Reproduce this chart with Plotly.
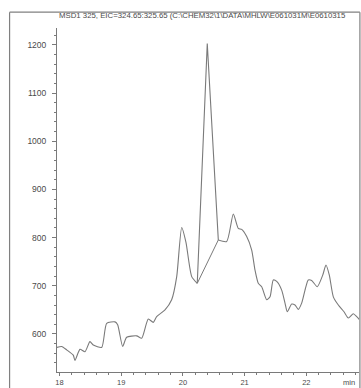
import plotly.graph_objects as go

rt = [17.955, 18.036, 18.117, 18.224, 18.251, 18.332, 18.413, 18.494, 18.548, 18.684,
      18.765, 18.900, 18.943, 19.024, 19.089, 19.251, 19.332, 19.439, 19.520, 19.575,
      19.710, 19.818, 19.900, 19.981, 20.050, 20.143, 20.233, 20.395, 20.574, 20.710,
      20.817, 20.898, 20.953, 21.034, 21.115, 21.168, 21.222, 21.277, 21.358, 21.412,
      21.465, 21.520, 21.601, 21.655, 21.692, 21.763, 21.817, 21.870, 21.925, 21.979,
      22.032, 22.087, 22.178, 22.266, 22.319, 22.373, 22.438, 22.519, 22.611, 22.681,
      22.762, 22.817, 22.887]
abundance = [572, 574, 567, 556, 545, 568, 563, 584, 577, 572,
             622, 625, 619, 574, 593, 596, 591, 631, 624, 636,
             650, 671, 719, 821, 790, 719, 705, 1203, 795, 792,
             849, 819, 817, 802, 774, 733, 705, 698, 671, 677,
             712, 709, 691, 664, 646, 662, 660, 651, 664, 691,
             712, 711, 698, 722, 743, 722, 677, 660, 646, 633,
             642, 636, 626]

# integration baseline under the tall peak
base_rt = [20.233, 20.574]
base_val = [705, 795]

title = "MSD1 325, EIC=324.65:325.65 (C:\\CHEM32\\1\\DATA\\MHLW\\E061031M\\E0610315"

ink = "#7a7a7a"
txt = "#4a4a4a"
font = "Liberation Sans"

fig = go.Figure()
# split the trace so the sharp peak stays sharp while the rest is smoothed
fig.add_trace(go.Scatter(x=rt[:27], y=abundance[:27], mode="lines",
                         line=dict(color=ink, width=1.1, shape="spline", smoothing=0.6),
                         hoverinfo="skip"))
fig.add_trace(go.Scatter(x=rt[26:29], y=abundance[26:29], mode="lines",
                         line=dict(color=ink, width=1.1), hoverinfo="skip"))
fig.add_trace(go.Scatter(x=rt[28:], y=abundance[28:], mode="lines",
                         line=dict(color=ink, width=1.1, shape="spline", smoothing=0.6),
                         hoverinfo="skip"))
fig.add_trace(go.Scatter(x=base_rt, y=base_val, mode="lines",
                         line=dict(color=ink, width=1), hoverinfo="skip"))

fig.update_layout(
    width=361, height=388,
    margin=dict(l=57, r=2, t=28, b=16),
    paper_bgcolor="white", plot_bgcolor="white",
    showlegend=False,
    font=dict(family=font, size=8, color=txt),
)
fig.update_xaxes(
    range=[17.96, 22.854], tickvals=[18, 19, 20, 21, 22],
    showgrid=False, zeroline=False, automargin=False,
    showline=True, linecolor=ink, linewidth=1,
    ticks="outside", ticklen=3, tickcolor=ink,
    tickfont=dict(size=7.5, color=txt),
    minor=dict(dtick=0.2, tick0=18, ticks="outside", ticklen=2, tickcolor=ink, showgrid=False),
)
fig.update_yaxes(
    range=[521, 1235], tickvals=[600, 700, 800, 900, 1000, 1100, 1200],
    showgrid=False, zeroline=False, automargin=False,
    showline=True, linecolor=ink, linewidth=1,
    ticks="outside", ticklen=4, tickcolor=ink,
    tickfont=dict(size=8.5, color=txt), ticklabelstandoff=4,
    minor=dict(dtick=20, tick0=600, ticks="outside", ticklen=2, tickcolor=ink, showgrid=False),
)

# outer frame of the printout
frame = dict(color="#808080", width=1.2)
fig.add_shape(type="line", xref="paper", yref="paper", x0=-0.157, x1=-0.157, y0=1.046, y1=-0.06, line=frame)
fig.add_shape(type="line", xref="paper", yref="paper", x0=-0.157, x1=1.003, y0=1.046, y1=1.046, line=frame)
fig.add_shape(type="line", xref="paper", yref="paper", x0=1.003, x1=1.003, y0=1.046, y1=-0.06, line=frame)

fig.add_annotation(text=title, xref="paper", yref="paper", x=0.0, y=1.037,
                   xanchor="left", yanchor="middle", showarrow=False,
                   font=dict(size=7.8, color=txt))
fig.add_annotation(text="min", xref="paper", yref="paper", x=0.995, y=-0.012,
                   xanchor="right", yanchor="top", showarrow=False,
                   font=dict(size=7.5, color=txt))

# drop the default page margin so the figure sits at the window's corner
fig.write_html("out.html", config={"displayModeBar": False},
               post_script="document.body.style.margin='0';")
